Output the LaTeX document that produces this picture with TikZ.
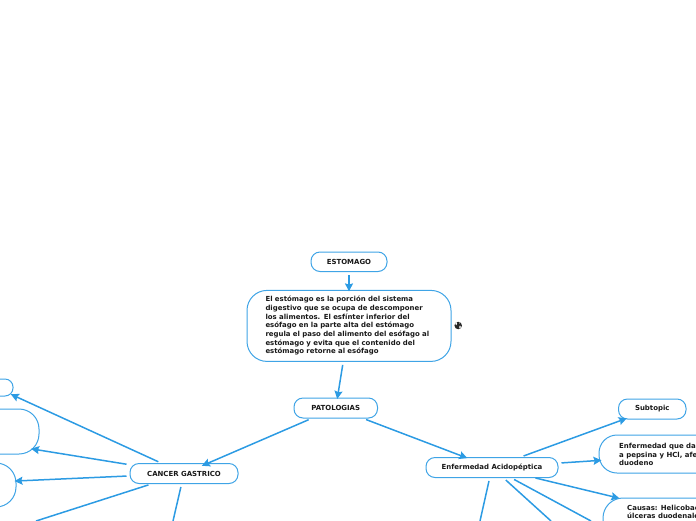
\documentclass[tikz,border=0pt]{standalone}
\usepackage{fontspec}
\setmainfont{DejaVu Sans}[BoldFont={DejaVu Sans Bold}]
\usetikzlibrary{arrows.meta}
\definecolor{mapblue}{HTML}{2C9BE3}
\definecolor{mapborder}{HTML}{3FA4E6}
\tikzset{
  x=1pt,y=-1pt,
  topic/.style={draw=mapborder,line width=1pt,fill=white,rounded corners=#1,inner sep=0pt,
    font=\fontsize{6.95}{8.65}\selectfont\bfseries,text=black!90},
  topic/.default=9pt,
  lbl/.style={inner sep=0pt,align=left,font=\fontsize{6.95}{8.5}\selectfont\bfseries,text=black!90},
  link/.style={draw=mapblue,line width=1.5pt,-{Stealth[length=8pt,width=8pt,inset=1.2pt]},shorten <=3pt,shorten >=-1.5pt},
  freelink/.style={draw=mapblue,line width=1.5pt,shorten <=3pt}
}
\begin{document}
\begin{tikzpicture}
\useasboundingbox (0,0) rectangle (696,520);
\clip (0,0) rectangle (696,520);
% main column
\node[topic,minimum width=76pt,minimum height=19.5pt] (est) at (349,261.75) {ESTOMAGO};
\node[topic=20pt,minimum width=204pt,minimum height=71pt,text width=167pt,align=left] (desc) at (349,325.9)
  {El estómago es la porción del sistema\\digestivo que se ocupa de descomponer\\los alimentos. El esfínter inferior del\\esófago en la parte alta del estómago\\regula el paso del alimento del esófago al\\estómago y evita que el contenido del\\estómago retorne al esófago};
\node[topic,minimum width=83.5pt,minimum height=20pt] (pat) at (335.75,408) {PATOLOGIAS};
\node[topic,minimum width=108pt,minimum height=20pt] (can) at (184,473.5) {CANCER GASTRICO};
\node[topic,minimum width=132pt,minimum height=20pt] (enf) at (492,467.5) {Enfermedad Acidopéptica};
\node[topic,minimum width=67.5pt,minimum height=20pt] (sub) at (652.25,409) {Subtopic};
% left topics, cut by the page edge
\node[topic=8pt,minimum width=34pt,minimum height=17pt] (l1) at (-4,387.5) {};
\node[topic=20pt,minimum width=230pt,minimum height=45pt] (l2) at (-76,431.5) {};
\node[topic=20pt,minimum width=180pt,minimum height=44pt] (l3) at (-74,485) {};
% right topics, cut by the page edge
\node[topic=18pt,minimum width=196pt,minimum height=38pt] (r1) at (697,454) {};
\node[lbl,anchor=west] (r1t) at (619,454.5) {Enfermedad que dan\\a pepsina y HCl, afe\\duodeno};
\node[topic=20pt,minimum width=238pt,minimum height=50pt] (r2) at (722,523) {};
\node[lbl,anchor=north west] (r2t) at (627,505) {Causas: Helicobac\\úlceras duodenale};
% globe icon
\node[circle,fill=black!85,minimum size=7.5pt,inner sep=0pt] (globe) at (458.2,325.5) {};
\fill[white] (456.2,323.6) ellipse (1pt and 1.7pt);
\fill[white] (460,327) ellipse (0.9pt and 1.6pt);
\fill[white] (459.6,323) circle (0.5pt);
% free ends at the page edge
\coordinate (f1) at (36,521);
\coordinate (f2) at (173,521);
\coordinate (f3) at (480,521);
\coordinate (f4) at (551,521);
\coordinate (f5) at (591,521);
% connectors
\draw[link] (est) -- (desc);
\draw[link] (desc) -- (pat);
\draw[link,shorten >=-7pt] (pat) -- (can);
\draw[link,shorten >=-3pt] (pat) -- (enf);
\draw[link,shorten >=-3pt] (can) -- (l1);
\draw[link,shorten >=-8.5pt] (can) -- (l2);
\draw[link,shorten >=-2pt] (can) -- (l3);
\draw[freelink] (can) -- (f1);
\draw[freelink] (can) -- (f2);
\draw[link,shorten >=-3.5pt] (enf) -- (sub);
\draw[link,shorten >=-3pt] (enf) -- (r1);
\draw[link,shorten <=0pt,shorten >=-3pt] (enf) -- (r2);
\draw[freelink] (enf) -- (f3);
\draw[freelink] (enf) -- (f4);
\draw[freelink] (enf) -- (f5);
\end{tikzpicture}
\end{document}
